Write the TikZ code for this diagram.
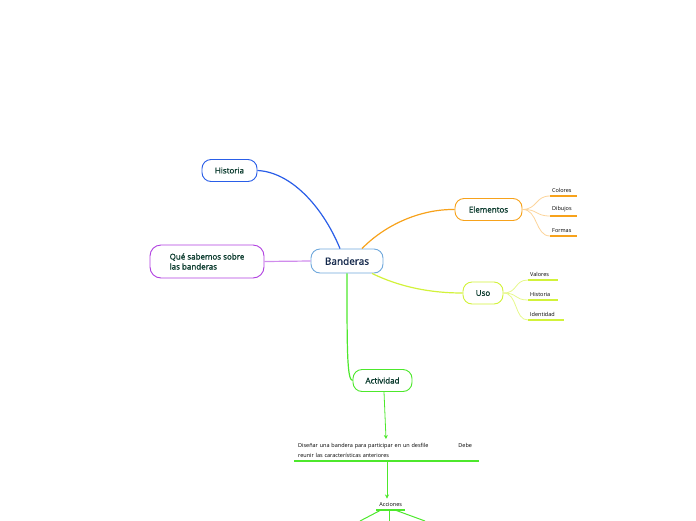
\documentclass[tikz,border=0pt]{standalone}
\usepackage{fontspec}
\setmainfont{Open Sans}
\newfontfamily\topicfont[FakeBold=1.3]{Open Sans}
\usetikzlibrary{arrows.meta}
\definecolor{txtgreen}{HTML}{0B3B2E}
\definecolor{bannavy}{HTML}{14284B}
\definecolor{banblue}{HTML}{6FA8DC}
\definecolor{histblue}{HTML}{2A5EE8}
\definecolor{quepurple}{HTML}{B03FE0}
\definecolor{eleorange}{HTML}{F7A21B}
\definecolor{eleleaf}{HTML}{FCD49A}
\definecolor{usolime}{HTML}{D2F23A}
\definecolor{usoleaf}{HTML}{E6F88C}
\definecolor{actgreen}{HTML}{4DE82C}

\begin{document}
\begin{tikzpicture}[x=1pt,y=-1pt,font=\topicfont\fontsize{8}{10}\selectfont]
  \tikzstyle{topic}=[draw,rounded corners=9pt,line width=0.9pt,fill=white,text=txtgreen,inner sep=0pt,minimum height=22pt]
  \tikzstyle{leaf}=[anchor=south west,inner xsep=2pt,inner ysep=3.5pt,align=left,font=\rmfamily\fontsize{5.5}{7}\selectfont,text=black]
  \tikzstyle{link}=[line width=1.2pt]
  \useasboundingbox (0,0) rectangle (696,520);
  % Central topic
  \node[topic,draw=banblue,text=bannavy,minimum width=72pt,minimum height=24pt,font=\topicfont\fontsize{10}{12}\selectfont] (ban) at (347,261) {Banderas};
  % Left branches
  \node[topic,draw=histblue,minimum width=55pt] (hist) at (229.5,170.5) {Historia};
  \node[topic,draw=quepurple,minimum width=114pt,minimum height=33pt,rounded corners=11pt,align=left] (que) at (207,261.5) {Qué sabemos sobre\\las banderas\hspace{25pt}};
  \draw[link,histblue] (hist.east) .. controls (290,172) and (322,205) .. (ban.north -| 340,0);
  \draw[link,quepurple!60] (ban.west) -- (que.east);
  % Elementos
  \node[topic,draw=eleorange,minimum width=67pt] (ele) at (488.5,209.5) {Elementos};
  \draw[link,eleorange] (ban.north -| 362,0) .. controls (385,225) and (420,209) .. (ele.west);
  \foreach \name/\txt/\yy in {col/Colores/196,dib/Dibujos/216,form/Formas/236} {
    \node[leaf,text width=23pt] (\name) at (550,\yy) {\txt};
    \draw[eleorange,line width=1.2pt] (\name.south west) -- (\name.south east);
    \draw[eleleaf,line width=0.8pt] (ele.east) .. controls (538,209) and (535,\yy) .. (\name.south west);
  }
  % Uso
  \node[topic,draw=usolime,minimum width=40pt] (uso) at (483,293) {Uso};
  \draw[link,usolime] (ban.south -| 372,0) .. controls (400,287) and (430,293) .. (uso.west);
  \node[leaf,text width=26pt] (val) at (528,280) {Valores};
  \node[leaf,text width=26pt] (his) at (528,300) {Historia};
  \node[leaf,text width=32pt] (ide) at (528,320) {Identidad};
  \foreach \name/\yy in {val/280,his/300,ide/320} {
    \draw[usolime,line width=1.2pt] (\name.south west) -- (\name.south east);
    \draw[usoleaf,line width=0.8pt] (uso.east) .. controls (518,293) and (514,\yy) .. (\name.south west);
  }
  % Actividad
  \node[topic,draw=actgreen,minimum width=59pt] (act) at (382.5,380.5) {Actividad};
  \draw[link,actgreen] (ban.south -| 347,0) .. controls (347,350) and (347,380) .. (act.west);
  \node[leaf,inner xsep=4pt,inner ysep=3pt,text width=177pt,font=\rmfamily\fontsize{5.5}{10}\selectfont] (dis) at (294,461)
    {Diseñar una bandera para participar en un desfile\hspace{30pt}Debe\\reunir las características anteriores};
  \draw[actgreen,line width=1.2pt] (dis.south west) -- (dis.south east);
  \draw[actgreen,line width=0.8pt,-{Stealth[length=4pt,width=4pt]}] (act.south -| 384,0) -- (386,439);
  \node[leaf,inner xsep=0pt,text width=29pt,align=center] (acc) at (376,510) {Acciones};
  \draw[actgreen,line width=1.2pt] (acc.south west) -- (acc.south east);
  \draw[actgreen,line width=0.8pt,-{Stealth[length=4pt,width=4pt]}] (dis.south -| 387,0) -- (acc.north -| 387,0);
  % Acciones children (cut at the border)
  \coordinate (c1) at (360,521);
  \coordinate (c2) at (389,521);
  \coordinate (c3) at (425,521);
  \draw[actgreen,line width=1pt] (381,510) -- (c1);
  \draw[actgreen,line width=1pt] (389,510) -- (c2);
  \draw[actgreen,line width=1pt] (395,510) -- (c3);
\end{tikzpicture}
\end{document}
